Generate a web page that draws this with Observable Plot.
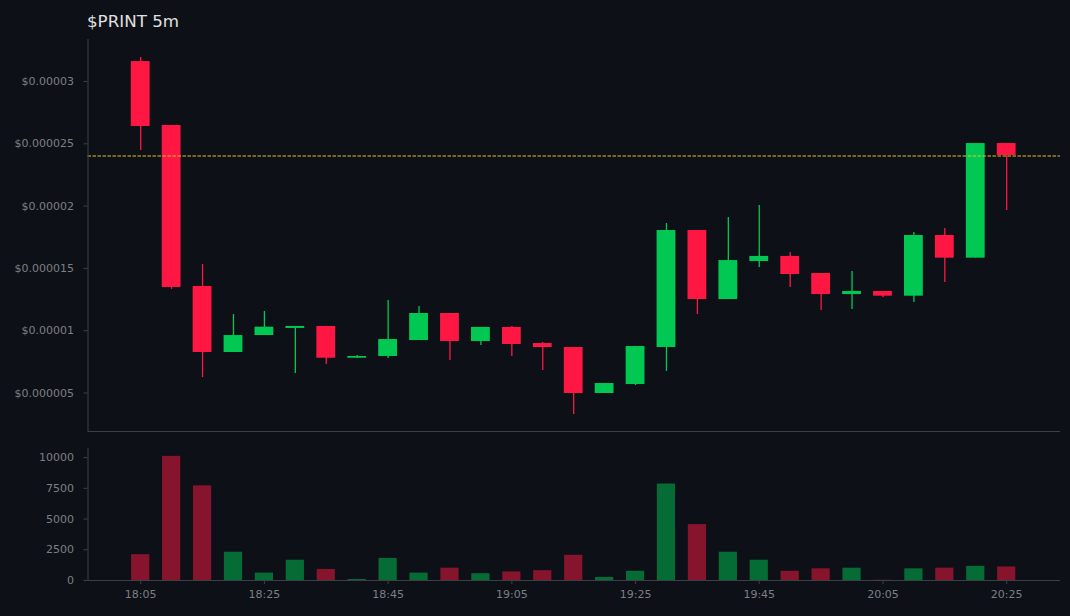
<!DOCTYPE html>
<html>
<head>
<meta charset="utf-8">
<script src="https://cdn.jsdelivr.net/npm/d3@7"></script>
<script src="https://cdn.jsdelivr.net/npm/@observablehq/plot@0.6"></script>
<style>
html,body{margin:0;padding:0;background:#0d1117;width:1070px;height:616px;overflow:hidden}
#title{height:30px;box-sizing:border-box;padding:11.5px 0 0 87px;color:#e0e0e0;font:16.7px/18px "DejaVu Sans",sans-serif}
svg{display:block}
</style>
</head>
<body>
<div id="title">$PRINT 5m</div>
<div id="chart"></div>
<script>
const times = ["18:05","18:10","18:15","18:20","18:25","18:30","18:35","18:40","18:45","18:50","18:55","19:00","19:05","19:10","19:15","19:20","19:25","19:30","19:35","19:40","19:45","19:50","19:55","20:00","20:05","20:10","20:15","20:20","20:25"];
const opens  = [31.60e-6,26.47e-6,13.55e-6,8.25e-6,9.61e-6,10.18e-6,10.34e-6,7.79e-6,7.93e-6,9.21e-6,11.38e-6,9.13e-6,10.26e-6,8.97e-6,8.65e-6,4.96e-6,5.68e-6,8.65e-6,18.04e-6,12.50e-6,15.55e-6,15.96e-6,14.59e-6,12.90e-6,13.15e-6,12.77e-6,17.64e-6,15.82e-6,25.02e-6];
const closes = [26.39e-6,13.47e-6,8.25e-6,9.61e-6,10.28e-6,10.34e-6,7.79e-6,7.93e-6,9.29e-6,11.38e-6,9.13e-6,10.26e-6,8.89e-6,8.65e-6,4.96e-6,5.76e-6,8.73e-6,18.04e-6,12.50e-6,15.63e-6,15.96e-6,14.51e-6,12.90e-6,13.15e-6,12.77e-6,17.64e-6,15.82e-6,25.02e-6,24.06e-6];
const highs  = [31.93e-6,26.47e-6,15.31e-6,11.30e-6,11.54e-6,10.34e-6,10.34e-6,8.01e-6,12.42e-6,11.94e-6,11.38e-6,10.26e-6,10.34e-6,9.05e-6,8.65e-6,5.76e-6,8.73e-6,18.60e-6,18.04e-6,19.09e-6,20.05e-6,16.28e-6,14.59e-6,14.75e-6,13.15e-6,17.88e-6,18.20e-6,25.02e-6,25.02e-6];
const lows   = [24.46e-6,13.31e-6,6.24e-6,8.25e-6,9.61e-6,6.56e-6,7.29e-6,7.79e-6,7.77e-6,9.21e-6,7.61e-6,8.81e-6,7.93e-6,6.81e-6,3.27e-6,4.96e-6,5.60e-6,6.73e-6,11.30e-6,12.50e-6,15.07e-6,13.47e-6,11.62e-6,11.70e-6,12.66e-6,12.26e-6,13.87e-6,15.82e-6,19.65e-6];
const volumes = [2100,10100,7700,2300,600,1650,900,80,1800,600,1000,550,700,800,2050,250,750,7850,4550,2300,1650,750,950,1000,20,950,1000,1150,1100];
const lastPrice = 24.02e-6;
const priceTicks = [0.000005,0.00001,0.000015,0.00002,0.000025,0.00003];
const volumeTicks = [0,2500,5000,7500,10000];
const timeTicks = ["18:05","18:25","18:45","19:05","19:25","19:45","20:05","20:25"];

const upColor = "#00c853", downColor = "#ff1744", axisColor = "#3c4045", textColor = "#7c7f83";
const toDate = s => new Date(`2024-01-01T${s}:00Z`);
const minutes = (d, m) => new Date(+d + m * 60000);
const candles = times.map((t, i) => ({
  t: toDate(t), open: opens[i], close: closes[i], high: highs[i], low: lows[i],
  volume: volumes[i], color: closes[i] >= opens[i] ? upColor : downColor
}));
const xDomain = [minutes(toDate("18:05"), -8.52), minutes(toDate("20:25"), 8.70)];
const priceDomain = [1.91e-6, 33.37e-6];
const volumeDomain = [0, 10740];
const fmtPrice = d => "$" + d.toFixed(6).replace(/0+$/, "");
const base = {
  width: 1070, marginLeft: 87.5, marginRight: 10,
  style: {background: "transparent", fontFamily: "DejaVu Sans, sans-serif", fontSize: "11px"}
};

const pricePlot = Plot.plot({
  ...base, height: 402, marginTop: 9, marginBottom: 1,
  x: {type: "utc", domain: xDomain, axis: null},
  y: {domain: priceDomain, axis: null},
  marks: [
    Plot.ruleX(candles, {x: "t", y1: "low", y2: "high", stroke: "color", strokeWidth: 1.3}),
    Plot.rect(candles, {
      x1: d => minutes(d.t, -1.52), x2: d => minutes(d.t, 1.52),
      y1: "open", y2: "close", fill: "color"
    }),
    Plot.ruleY([lastPrice], {stroke: "#e6c229", strokeWidth: 1, strokeDasharray: "3.5,1.5"}),
    Plot.axisY({ticks: priceTicks, tickFormat: fmtPrice, tickSize: 4, tickPadding: 10, color: textColor, stroke: axisColor, label: null, fill: textColor}),
    Plot.ruleX([xDomain[0]], {stroke: axisColor}),
    Plot.ruleY([priceDomain[0]], {stroke: axisColor})
  ]
});

const volumePlot = Plot.plot({
  ...base, height: 184, marginTop: 16, marginBottom: 36,
  x: {type: "utc", domain: xDomain, axis: null},
  y: {domain: volumeDomain, axis: null},
  marks: [
    Plot.rectY(candles, {
      x1: d => minutes(d.t, -1.47), x2: d => minutes(d.t, 1.47),
      y1: 0, y2: "volume", fill: "color", fillOpacity: 0.5
    }),
    Plot.axisY({ticks: volumeTicks, tickFormat: d => String(d), tickSize: 4, tickPadding: 10, color: textColor, stroke: axisColor, label: null, fill: textColor}),
    Plot.axisX({ticks: timeTicks.map(toDate), tickFormat: d3.utcFormat("%H:%M"), tickSize: 4, tickPadding: 6, color: textColor, stroke: axisColor, label: null, fill: textColor}),
    Plot.ruleX([xDomain[0]], {stroke: axisColor}),
    Plot.ruleY([0], {stroke: axisColor})
  ]
});

const host = document.getElementById("chart");
host.append(pricePlot, volumePlot);
</script>
</body>
</html>
